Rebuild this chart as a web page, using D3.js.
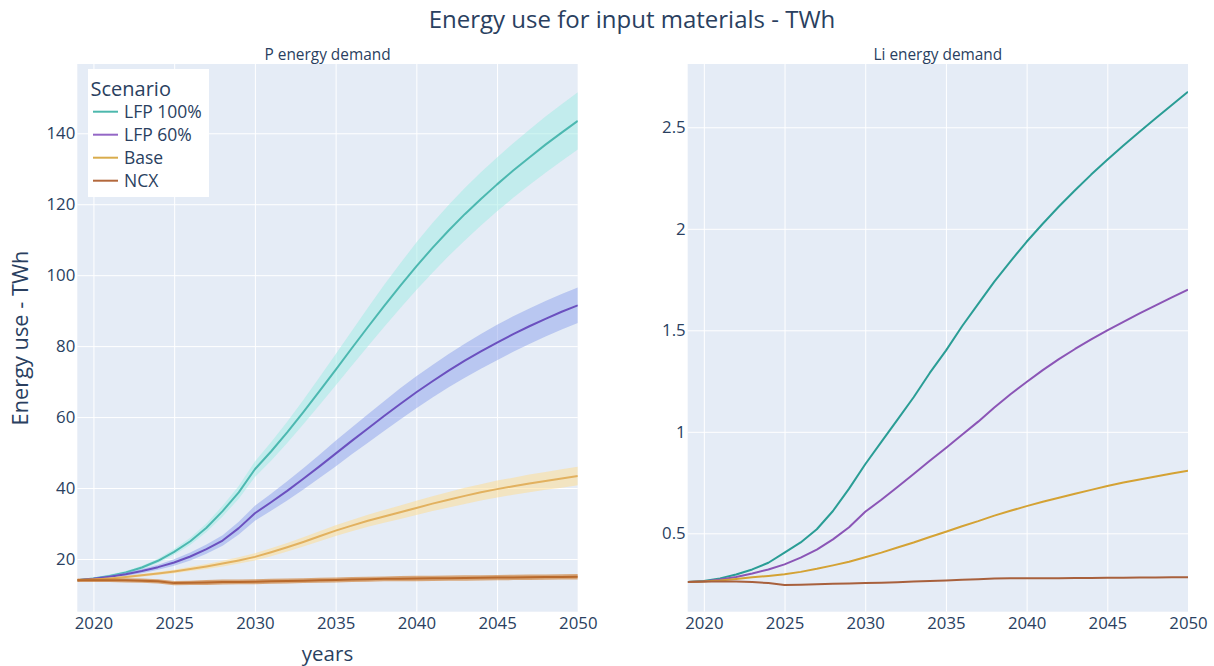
<!DOCTYPE html>
<html>
<head>
<meta charset="utf-8">
<script src="https://cdn.jsdelivr.net/npm/d3@7"></script>
<style>
  html, body { margin: 0; padding: 0; background: #ffffff; }
  svg { display: block; font-family: "Open Sans", verdana, arial, sans-serif; }
</style>
</head>
<body>
<svg id="chart" width="1214" height="666"></svg>
<script>
// ---- data -------------------------------------------------------------
const years = [2019, 2020, 2021, 2022, 2023, 2024, 2025, 2026, 2027, 2028, 2029, 2030,
               2031, 2032, 2033, 2034, 2035, 2036, 2037, 2038, 2039, 2040,
               2041, 2042, 2043, 2044, 2045, 2046, 2047, 2048, 2049, 2050];

const scenarios = ["LFP 100%", "LFP 60%", "Base", "NCX"];

// P energy demand (TWh): central estimate and uncertainty band
const pLfp100    = [14.0, 14.5, 15.2, 16.2, 17.6, 19.5, 22.0, 25.0, 28.8, 33.5, 38.8, 45.3,
                    50.3, 55.7, 61.4, 67.3, 73.3, 79.4, 85.4, 91.3, 97.0, 102.5,
                    107.7, 112.6, 117.2, 121.5, 125.6, 129.5, 133.2, 136.8, 140.2, 143.5];
const pLfp100Lo  = [13.7, 14.2, 14.8, 15.8, 17.1, 18.9, 21.2, 24.0, 27.6, 32.0, 37.0, 43.1,
                    47.7, 52.7, 58.0, 63.4, 68.9, 74.5, 80.0, 85.4, 90.7, 95.8,
                    100.7, 105.4, 109.8, 114.0, 118.0, 121.8, 125.4, 128.9, 132.2, 135.4];
const pLfp100Hi  = [14.3, 14.8, 15.6, 16.6, 18.1, 20.1, 22.8, 26.0, 30.0, 35.0, 40.6, 47.5,
                    52.9, 58.7, 64.8, 71.2, 77.7, 84.3, 90.8, 97.2, 103.3, 109.2,
                    114.7, 119.8, 124.6, 129.0, 133.2, 137.2, 141.0, 144.7, 148.2, 151.6];

const pLfp60     = [14.0, 14.4, 15.0, 15.7, 16.6, 17.7, 19.0, 20.7, 22.8, 25.2, 28.7, 32.9,
                    36.0, 39.2, 42.6, 46.1, 49.7, 53.3, 56.8, 60.3, 63.7, 67.0,
                    70.1, 73.1, 75.9, 78.5, 81.0, 83.4, 85.6, 87.7, 89.7, 91.5];
const pLfp60Lo   = [13.7, 14.1, 14.6, 15.2, 16.0, 17.0, 18.1, 19.6, 21.5, 23.7, 26.9, 30.8,
                    33.6, 36.5, 39.6, 42.8, 46.1, 49.5, 52.8, 56.1, 59.3, 62.5,
                    65.5, 68.4, 71.1, 73.6, 76.0, 78.4, 80.6, 82.7, 84.7, 86.5];
const pLfp60Hi   = [14.3, 14.7, 15.4, 16.2, 17.2, 18.4, 19.9, 21.8, 24.1, 26.7, 30.5, 35.0,
                    38.4, 41.9, 45.6, 49.4, 53.3, 57.1, 60.8, 64.5, 68.1, 71.5,
                    74.7, 77.8, 80.7, 83.4, 86.0, 88.4, 90.6, 92.7, 94.7, 96.5];

const pBase      = [14.0, 14.2, 14.5, 14.9, 15.4, 15.9, 16.5, 17.2, 17.9, 18.7, 19.6, 20.6,
                    21.9, 23.3, 24.8, 26.4, 28.0, 29.4, 30.8, 32.0, 33.2, 34.4,
                    35.6, 36.7, 37.8, 38.8, 39.7, 40.5, 41.3, 42.0, 42.7, 43.4];
const pBaseLo    = [13.8, 14.0, 14.2, 14.6, 15.0, 15.5, 16.0, 16.6, 17.2, 17.9, 18.7, 19.6,
                    20.8, 22.1, 23.5, 25.0, 26.5, 27.8, 29.1, 30.2, 31.3, 32.4,
                    33.5, 34.5, 35.5, 36.5, 37.3, 38.1, 38.8, 39.5, 40.1, 40.8];
const pBaseHi    = [14.2, 14.4, 14.8, 15.2, 15.8, 16.3, 17.0, 17.8, 18.6, 19.5, 20.5, 21.6,
                    23.0, 24.5, 26.1, 27.8, 29.5, 31.0, 32.5, 33.8, 35.1, 36.4,
                    37.7, 38.9, 40.1, 41.1, 42.1, 42.9, 43.8, 44.5, 45.3, 46.0];

const pNcx       = [14.0, 14.0, 14.0, 14.0, 13.9, 13.7, 13.2, 13.3, 13.4, 13.5, 13.55, 13.6,
                    13.7, 13.8, 13.9, 14.0, 14.1, 14.2, 14.3, 14.4, 14.45, 14.5,
                    14.55, 14.6, 14.65, 14.7, 14.75, 14.8, 14.85, 14.9, 14.95, 15.0];
const pNcxLo     = [13.5, 13.5, 13.5, 13.4, 13.3, 13.1, 12.6, 12.7, 12.7, 12.8, 12.85, 12.9,
                    13.0, 13.1, 13.2, 13.3, 13.4, 13.5, 13.6, 13.7, 13.7, 13.75,
                    13.8, 13.85, 13.9, 13.95, 14.0, 14.05, 14.1, 14.15, 14.2, 14.25];
const pNcxHi     = [14.5, 14.5, 14.5, 14.6, 14.5, 14.3, 13.8, 13.9, 14.1, 14.2, 14.25, 14.3,
                    14.4, 14.5, 14.6, 14.7, 14.8, 14.9, 15.0, 15.1, 15.2, 15.25,
                    15.3, 15.35, 15.4, 15.45, 15.5, 15.55, 15.6, 15.65, 15.7, 15.75];

// Li energy demand (TWh)
const liLfp100 = [0.26, 0.265, 0.278, 0.297, 0.322, 0.355, 0.405, 0.455, 0.52, 0.61, 0.72, 0.84,
                  0.95, 1.06, 1.17, 1.29, 1.40, 1.52, 1.63, 1.74, 1.84, 1.936,
                  2.025, 2.11, 2.19, 2.267, 2.34, 2.41, 2.478, 2.545, 2.61, 2.675];
const liLfp60  = [0.26, 0.263, 0.272, 0.285, 0.302, 0.322, 0.347, 0.38, 0.42, 0.47, 0.53, 0.606,
                  0.665, 0.728, 0.792, 0.857, 0.92, 0.985, 1.05, 1.12, 1.185, 1.245,
                  1.304, 1.358, 1.408, 1.455, 1.50, 1.542, 1.583, 1.623, 1.662, 1.70];
const liBase   = [0.26, 0.263, 0.268, 0.275, 0.283, 0.29, 0.298, 0.31, 0.325, 0.342, 0.36, 0.382,
                  0.405, 0.43, 0.455, 0.482, 0.508, 0.535, 0.56, 0.587, 0.611, 0.634,
                  0.655, 0.675, 0.695, 0.714, 0.733, 0.75, 0.765, 0.78, 0.795, 0.808];
const liNcx    = [0.26, 0.262, 0.262, 0.262, 0.26, 0.255, 0.245, 0.247, 0.249, 0.251, 0.253, 0.255,
                  0.257, 0.259, 0.262, 0.265, 0.268, 0.271, 0.274, 0.277, 0.278, 0.278,
                  0.279, 0.279, 0.28, 0.28, 0.281, 0.281, 0.282, 0.282, 0.283, 0.283];

const pTicks  = [20, 40, 60, 80, 100, 120, 140];
const liTicks = [0.5, 1, 1.5, 2, 2.5];
const yearTicks = [2020, 2025, 2030, 2035, 2040, 2045, 2050];

// ---- styling ----------------------------------------------------------
const textColor = "#2a3f5f";
const plotBg = "#e5ecf6";
const lineColorsP  = ["#4cb8b0", "#6b50bf", "#e2b15f", "#b8692c"];
const bandColorsP  = ["rgba(160,235,228,0.5)", "rgba(141,162,236,0.5)",
                      "rgba(255,220,140,0.5)", "rgba(204,110,20,0.55)"];
const lineColorsLi = ["#2a9d95", "#8b55b6", "#d4a234", "#a8603c"];
const legendColors = ["#4cb8ad", "#9467c6", "#d9ac4c", "#b3683c"];

const svg = d3.select("#chart");
const fontStack = '"Open Sans", verdana, arial, sans-serif';

// Panel geometry
const plotTop = 64, plotBottom = 611.7;
const panels = [
  { left: 77.3,  right: 577.8, yDomain: [5.144, 159.53], ticks: pTicks, fmt: d3.format("d"),
    title: "P energy demand",
    series: [
      { mid: pLfp100, lo: pLfp100Lo, hi: pLfp100Hi },
      { mid: pLfp60,  lo: pLfp60Lo,  hi: pLfp60Hi },
      { mid: pBase,   lo: pBaseLo,   hi: pBaseHi },
      { mid: pNcx,    lo: pNcxLo,    hi: pNcxHi }
    ], lineColors: lineColorsP, bandColors: bandColorsP },
  { left: 687.7, right: 1188.0, yDomain: [0.1138, 2.8118], ticks: liTicks, fmt: d => String(d),
    title: "Li energy demand",
    series: [
      { mid: liLfp100 }, { mid: liLfp60 }, { mid: liBase }, { mid: liNcx }
    ], lineColors: lineColorsLi }
];

panels.forEach((p, pi) => {
  const x = d3.scaleLinear().domain([2019, 2050]).range([p.left, p.right]);
  const y = d3.scaleLinear().domain(p.yDomain).range([plotBottom, plotTop]);
  const w = p.right - p.left, h = plotBottom - plotTop;

  const g = svg.append("g");
  g.append("rect").attr("x", p.left).attr("y", plotTop).attr("width", w).attr("height", h)
    .attr("fill", plotBg);

  // Gridlines + tick labels via d3 axes
  const xAxis = d3.axisBottom(x).tickValues(yearTicks).tickFormat(d3.format("d"))
    .tickSize(-h).tickPadding(5.5);
  const gx = g.append("g").attr("transform", `translate(0,${plotBottom})`).call(xAxis);
  gx.select(".domain").remove();
  gx.selectAll(".tick line").attr("stroke", "#ffffff").attr("stroke-width", 1);
  gx.selectAll(".tick text").attr("fill", textColor).style("font-size", "16.8px")
    .style("font-family", fontStack);

  const yAxis = d3.axisLeft(y).tickValues(p.ticks).tickFormat(p.fmt)
    .tickSize(-w).tickPadding(2);
  const gy = g.append("g").attr("transform", `translate(${p.left},0)`).call(yAxis);
  gy.select(".domain").remove();
  gy.selectAll(".tick line").attr("stroke", "#ffffff").attr("stroke-width", 1);
  gy.selectAll(".tick text").attr("fill", textColor).style("font-size", "16.8px")
    .style("font-family", fontStack);

  const clipId = "clip" + pi;
  svg.append("clipPath").attr("id", clipId).append("rect")
    .attr("x", p.left).attr("y", plotTop).attr("width", w).attr("height", h);
  const marks = g.append("g").attr("clip-path", `url(#${clipId})`);

  const line = d3.line().x((d, i) => x(years[i])).y(d => y(d));
  const area = d3.area().x((d, i) => x(years[i]))
    .y0(d => y(d.lo)).y1(d => y(d.hi));

  p.series.forEach((s, si) => {
    if (s.lo) {
      const bandData = s.lo.map((v, i) => ({ lo: v, hi: s.hi[i] }));
      marks.append("path").datum(bandData).attr("d", area)
        .attr("fill", p.bandColors[si]).attr("stroke", "none");
    }
    marks.append("path").datum(s.mid).attr("d", line)
      .attr("fill", "none").attr("stroke", p.lineColors[si]).attr("stroke-width", 2)
      .attr("stroke-linejoin", "round");
  });

  // Subplot title
  svg.append("text").attr("x", (p.left + p.right) / 2).attr("y", 60)
    .attr("text-anchor", "middle").attr("fill", textColor)
    .style("font-size", "15.4px").text(p.title);
});

// Figure title
svg.append("text").attr("x", 632).attr("y", 28).attr("text-anchor", "middle")
  .attr("fill", textColor).style("font-size", "24px")
  .text("Energy use for input materials - TWh");

// Axis titles
svg.append("text").attr("x", 327.5).attr("y", 661).attr("text-anchor", "middle")
  .attr("fill", textColor).style("font-size", "20.5px").text("years");
svg.append("text").attr("transform", "translate(28,338) rotate(-90)")
  .attr("text-anchor", "middle").attr("fill", textColor)
  .style("font-size", "21.8px").text("Energy use - TWh");

// Legend
const lg = svg.append("g");
lg.append("rect").attr("x", 88).attr("y", 69).attr("width", 121).attr("height", 128)
  .attr("fill", "#ffffff");
lg.append("text").attr("x", 90.5).attr("y", 96).attr("fill", textColor)
  .style("font-size", "20px").text("Scenario");
scenarios.forEach((name, i) => {
  const cy = 111.7 + i * 23;
  lg.append("line").attr("x1", 93).attr("x2", 118).attr("y1", cy).attr("y2", cy)
    .attr("stroke", legendColors[i]).attr("stroke-width", 2);
  lg.append("text").attr("x", 124).attr("y", cy + 6).attr("fill", textColor)
    .style("font-size", "17.5px").text(name);
});
</script>
</body>
</html>
